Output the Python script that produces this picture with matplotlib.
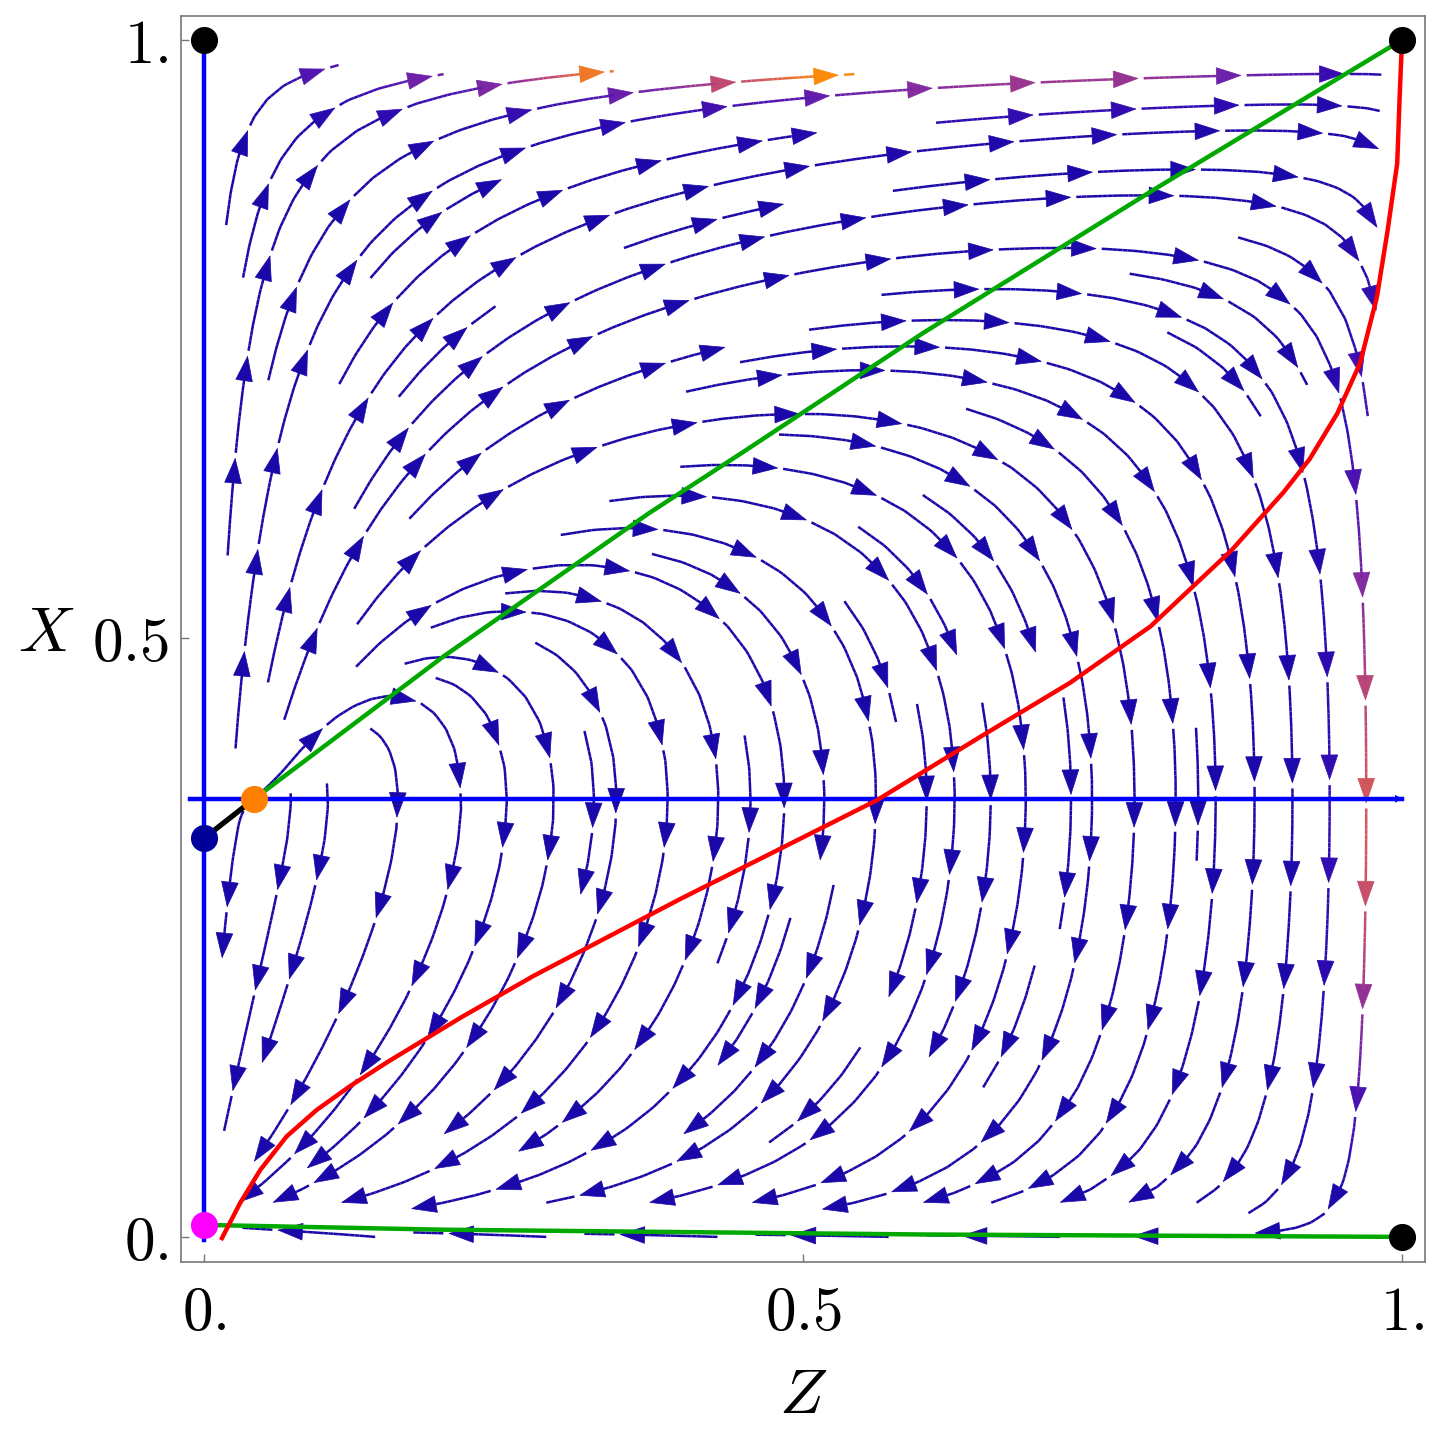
import numpy as np
import matplotlib
matplotlib.use("Agg")
import matplotlib.pyplot as plt
from matplotlib.colors import LinearSegmentedColormap, Normalize
from matplotlib.collections import LineCollection
from matplotlib.patches import FancyArrowPatch

plt.rcParams['mathtext.fontset'] = 'cm'

# ---- data ----
x_star = 0.366            # dZ/dt = 0 line (horizontal blue)
flow_gain = 1.15          # relative strength of dX/dt

# dX/dt = 0 nullcline (green, upper branch)
green_z = [0.0, 0.042, 0.20, 0.372, 0.452, 0.60, 0.793, 0.917, 1.0]
green_x = [0.333, 0.366, 0.485, 0.605, 0.657, 0.755, 0.875, 0.950, 1.0]
# dX/dt = 0 nullcline (green, lower branch)
green_low_z = [0.0, 0.2, 0.4, 0.6, 0.8, 1.0]
green_low_x = [0.010, 0.006, 0.004, 0.002, 0.001, 0.0]

# red curve
red_z = [0.015, 0.030, 0.047, 0.069, 0.094, 0.122, 0.153, 0.186, 0.214, 0.275,
         0.397, 0.562, 0.650, 0.723, 0.790, 0.858, 0.901, 0.923, 0.946, 0.965,
         0.979, 0.988, 0.996, 0.998, 1.0]
red_x = [-0.001, 0.028, 0.056, 0.084, 0.106, 0.126, 0.146, 0.166, 0.183, 0.218,
         0.282, 0.365, 0.419, 0.463, 0.510, 0.574, 0.622, 0.650, 0.688, 0.730,
         0.785, 0.841, 0.897, 0.952, 1.0]

# black segment between the two fixed points on the left
black_z = [0.0, 0.042]
black_x = [0.333, 0.366]

# fixed points
fp_black_z = [0.0, 1.0, 1.0]
fp_black_x = [1.0, 1.0, 0.0]
fp_navy = (0.0, 0.333)
fp_orange = (0.042, 0.366)
fp_magenta = (0.0, 0.010)

tick_vals = [0.0, 0.5, 1.0]
tick_labels = [r'$0.$', r'$0.5$', r'$1.$']

# ---- vector field ----
n = 200
zg = np.linspace(0, 1, n)
xg = np.linspace(0, 1, n)
Zm, Xm = np.meshgrid(zg, xg)
g_up = np.interp(Zm, green_z, green_x)
g_lo = np.interp(Zm, green_low_z, green_low_x)
U = Zm * (1 - Zm) * (Xm - x_star)
V = flow_gain * (Xm - g_lo) * (1 - Xm) * (Xm - g_up)
# colour value: flow strength close to the top and right edges
top_term = np.abs(U) * np.exp((Xm - 1) / 0.02)
right_term = 0.75 * np.abs(V) * np.exp((Zm - 1) / 0.02)
cval = np.maximum(top_term, right_term)

cmap = LinearSegmentedColormap.from_list(
    'mma', [(0.0, '#1a08a8'), (0.12, '#2a0ab0'), (0.3, '#4a12b0'),
            (0.5, '#7424a8'), (0.68, '#aa3e88'), (0.84, '#d85a58'),
            (1.0, '#ff9000')])
norm = Normalize(0, 0.034)

# streamlines computed by matplotlib on a scratch axes
fig0, ax0 = plt.subplots(figsize=(14.4, 14.4), dpi=100)
ax0.set_xlim(-0.0192, 1.0192)
ax0.set_ylim(-0.021, 1.020)
sp = ax0.streamplot(zg, xg, U, V, color=cval, cmap=cmap, norm=norm,
                    density=1.2, linewidth=1.8, arrowsize=1,
                    broken_streamlines=True)
segs = sp.lines.get_segments()
vals = np.asarray(sp.lines.get_array())
plt.close(fig0)

fig = plt.figure(figsize=(14.4, 14.4), dpi=100)
ax = fig.add_axes([0.1257, 0.1236, 0.8639, 0.8653])
ax.set_xlim(-0.0192, 1.0192)
ax.set_ylim(-0.021, 1.020)


def inside(p):
    return 0.006 < p[0] < 0.994 and p[1] < 0.994


trajs = []
cur_pts, cur_vals = None, None
for s, v in zip(segs, vals):
    ok = inside(s[0]) and inside(s[1])
    if ok and cur_pts is not None and np.allclose(cur_pts[-1], s[0], atol=1e-9):
        cur_pts.append(s[1]); cur_vals.append(v)
    else:
        if cur_pts is not None:
            trajs.append((np.array(cur_pts), np.array(cur_vals)))
            cur_pts, cur_vals = None, None
        if ok:
            cur_pts = [s[0], s[1]]; cur_vals = [v]
if cur_pts is not None:
    trajs.append((np.array(cur_pts), np.array(cur_vals)))

piece = 0.082
gap = 0.004
head = 0.021
line_segs, line_cols = [], []
for pts, v in trajs:
    d = np.hypot(*np.diff(pts, axis=0).T)
    s = np.concatenate([[0], np.cumsum(d)])
    total = s[-1]
    if total < 0.01:
        continue
    vv = np.concatenate([v, v[-1:]])
    start = 0.0
    while start < total:
        end = min(start + piece, total)
        has_arrow = (end - start) > 1.6 * head
        line_end = end - head * 0.8 if has_arrow else end
        ss = np.linspace(start, line_end, max(int((line_end - start) / 0.004), 2))
        px = np.interp(ss, s, pts[:, 0]); py = np.interp(ss, s, pts[:, 1])
        pv = np.interp(ss, s, vv)
        for i in range(len(ss) - 1):
            line_segs.append([(px[i], py[i]), (px[i + 1], py[i + 1])])
            line_cols.append(cmap(norm(pv[i])))
        if has_arrow:
            a0 = (np.interp(end - head, s, pts[:, 0]), np.interp(end - head, s, pts[:, 1]))
            a1 = (np.interp(end, s, pts[:, 0]), np.interp(end, s, pts[:, 1]))
            c = cmap(norm(np.interp(end, s, vv)))
            ax.add_patch(FancyArrowPatch(a0, a1, arrowstyle='-|>,head_length=0.7,head_width=0.24',
                                         mutation_scale=25, color=c, lw=0.5,
                                         shrinkA=0, shrinkB=0, zorder=2))
        start = end + gap

ax.add_collection(LineCollection(line_segs, colors=line_cols, linewidths=1.8,
                                 capstyle='butt', zorder=2))

# nullclines / curves
ax.plot([-0.012, 1.0], [x_star, x_star], color='#0000ff', lw=3.2, zorder=3)
ax.add_patch(FancyArrowPatch((0.985, x_star), (1.003, x_star),
                             arrowstyle='-|>,head_length=0.4,head_width=0.2',
                             color='#0000ff', lw=0, mutation_scale=14, zorder=3))
ax.plot([0, 0], [-0.003, 1.0], color='#0000ff', lw=3.2, zorder=3)
ax.plot(green_z, green_x, color='#00a800', lw=3.2, zorder=4)
ax.plot(green_low_z, green_low_x, color='#00a800', lw=3.2, zorder=4)
ax.plot(red_z, red_x, color='#ff0000', lw=3.2, zorder=4, solid_joinstyle='round')
ax.plot(black_z, black_x, color='black', lw=3.8, zorder=4)

ms = 18.5
ax.plot(fp_black_z, fp_black_x, 'o', color='black', ms=ms, zorder=6, clip_on=False)
ax.plot(*fp_navy, 'o', color='#00009a', ms=ms, zorder=6, clip_on=False)
ax.plot(*fp_orange, 'o', color='#ff8000', ms=ms, zorder=6, clip_on=False)
ax.plot(*fp_magenta, 'o', color='#ff00ff', ms=ms, zorder=6, clip_on=False)

ax.set_xticks(tick_vals)
ax.set_xticklabels(tick_labels)
ax.set_yticks(tick_vals)
ax.set_yticklabels(tick_labels)
ax.tick_params(direction='in', length=6, width=1, color='#777777',
               labelsize=44, pad=9)
ax.tick_params(axis='x', pad=16)
for sp_ in ax.spines.values():
    sp_.set_color('#777777')
    sp_.set_linewidth(1.2)

ax.set_xlabel(r'$Z$', fontsize=46)
ax.xaxis.set_label_coords(0.5, -0.107)
ax.xaxis.label.set_va('center')
ax.set_ylabel(r'$X$', fontsize=46, rotation=0, ha='right', va='center')
ax.yaxis.set_label_coords(-0.086, 0.505)

fig.savefig('out.png', dpi=100, facecolor='white')
